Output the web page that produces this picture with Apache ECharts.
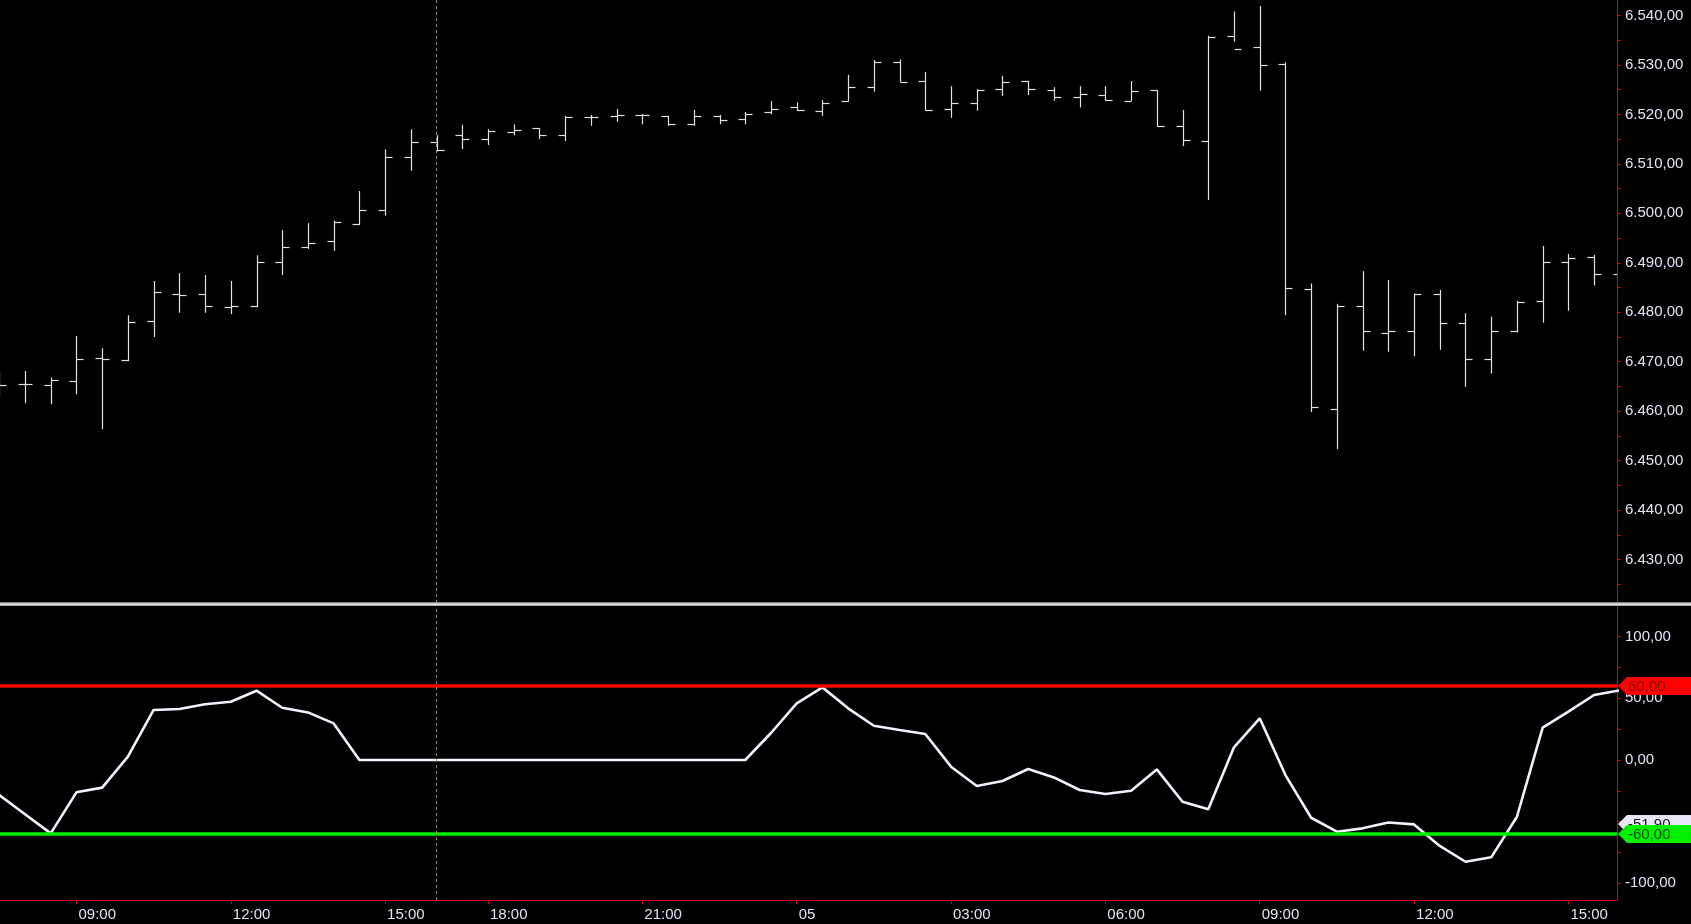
<!DOCTYPE html>
<html>
<head>
<meta charset="utf-8">
<script src="https://cdn.jsdelivr.net/npm/echarts@6/dist/echarts.min.js"></script>
<style>
html,body{margin:0;padding:0;background:#000;}
#chart{width:1691px;height:924px;}
</style>
</head>
<body>
<div id="chart"></div>
<script>
// ---- data (30-minute bars) ----
const times = [
  '07:30','08:00','08:30','09:00','09:30','10:00','10:30','11:00','11:30','12:00',
  '12:30','13:00','13:30','14:00','14:30','15:00','15:30','16:00','16:30',
  '18:00','18:30','19:00','19:30','20:00','20:30','21:00','21:30','22:00','22:30','23:00','23:30',
  '00:00','00:30','01:00','01:30','02:00','02:30','03:00','03:30','04:00','04:30','05:00','05:30',
  '06:00','06:30','07:00','07:30','08:00','08:30','09:00','09:30','10:00','10:30','11:00','11:30',
  '12:00','12:30','13:00','13:30','14:00','14:30','15:00','15:30','16:00'
];
const dayLabel = '05';
const opens = [
  6466.0,6465.5,6465.3,6466.1,6470.7,6470.3,6478.2,6483.7,6483.6,6481.0,
  6481.3,6490.2,6493.2,6494.3,6497.8,6500.7,6511.4,6514.5,6515.8,
  6515.0,6516.5,6517.2,6515.8,6519.5,6519.7,6519.9,6519.7,6518.0,6519.7,6519.1,6520.5,
  6521.5,6520.7,6522.7,6525.6,6530.5,6526.7,6521.1,6522.4,6525.1,6526.75,6524.9,6523.5,
  6523.9,6522.7,6524.9,6517.65,6514.6,6535.9,6533.7,6530.1,6484.6,6460.5,6481.3,6475.7,
  6476.2,6483.7,6477.8,6470.5,6476.1,6482.3,6490.2,6491.2,6487.7
];
const highs = [
  6468.0,6468.1,6466.8,6475.2,6472.7,6479.4,6486.3,6487.9,6487.5,6486.3,
  6491.5,6496.6,6498.0,6498.5,6504.5,6512.9,6517.0,6515.8,6517.9,
  6517.0,6518.0,6517.2,6519.7,6519.9,6521.1,6520.1,6519.7,6520.9,6519.9,6520.5,6522.7,
  6522.4,6522.9,6528.0,6531.0,6531.1,6528.6,6525.7,6525.1,6527.8,6526.8,6525.5,6525.7,
  6525.7,6526.75,6524.9,6520.9,6535.9,6540.8,6541.9,6530.5,6485.8,6481.7,6488.3,6486.5,
  6483.8,6484.5,6479.8,6479.1,6482.3,6493.4,6491.8,6491.6,6489.0
];
const lows = [
  6463.0,6461.6,6461.4,6463.4,6456.3,6470.1,6475.0,6479.9,6479.9,6479.6,
  6481.0,6487.5,6492.8,6492.4,6497.6,6499.5,6508.6,6512.5,6513.0,
  6513.8,6515.8,6515.0,6514.6,6517.7,6518.5,6518.0,6517.7,6517.7,6518.0,6518.0,6520.0,
  6520.7,6519.7,6522.6,6524.6,6526.5,6520.75,6519.3,6520.75,6523.7,6523.9,6522.8,6521.4,
  6522.8,6522.7,6517.5,6513.6,6502.7,6534.7,6524.8,6479.4,6459.8,6452.3,6472.2,6472.0,
  6471.1,6472.4,6464.9,6467.6,6475.9,6477.9,6480.3,6485.4,6486.0
];
const closes = [
  6465.3,6465.5,6466.3,6470.5,6470.5,6478.1,6484.1,6483.5,6481.3,6481.3,
  6490.2,6493.2,6493.9,6498.3,6500.7,6511.4,6514.5,6512.7,6515.0,
  6516.7,6516.8,6515.8,6519.5,6519.5,6519.9,6519.9,6518.0,6519.7,6518.8,6520.1,6521.1,
  6520.9,6522.4,6525.5,6530.5,6526.6,6520.9,6522.4,6524.9,6526.5,6525.1,6523.5,6524.1,
  6522.9,6524.7,6517.65,6514.8,6535.7,6533.2,6530.0,6484.8,6460.8,6481.3,6476.1,6476.3,
  6483.6,6477.8,6470.5,6476.1,6482.1,6490.2,6490.9,6487.7,6487.5
];
const oscillator = [
  -28.4,-44.0,-59.5,-26.2,-22.4,2.7,40.6,41.4,45.2,47.3,
  56.2,42.4,38.6,29.7,0,0,0,0,0,
  0,0,0,0,0,0,0,0,0,0,0,21.9,
  46.0,58.9,41.9,27.8,24.3,21.1,-5.4,-21.1,-17.0,-7.3,-14.1,-24.3,
  -27.6,-24.9,-7.6,-33.8,-40.0,10.3,33.8,-12.2,-46.8,-58.1,-55.4,-50.6,
  -52.2,-69.7,-82.5,-78.9,-46.0,26.2,39.2,52.7,56.5
];
const priceTicks = [6425,6430,6435,6440,6445,6450,6455,6460,6465,6470,6475,6480,6485,6490,6495,6500,6505,6510,6515,6520,6525,6530,6535,6540];
const priceLabels = [6430,6440,6450,6460,6470,6480,6490,6500,6510,6520,6530,6540];
const oscTicks = [-100,-75,-50,-25,0,25,50,75,100];
const oscLabels = [-100,-50,0,50,100];
const upperLevel = 60;
const lowerLevel = -60;
const markerValue = -51.9;
const sessionIndex = 17;

// ---- layout / style ----
const W = 1691;
const AXIS_X = 1617;
const RED = '#d80000';
const TXT = '#e4e4f4';
const FONT = "'Liberation Sans', Arial, sans-serif";

function fmt(v) {
  const neg = v < 0;
  const parts = Math.abs(v).toFixed(2).split('.');
  const ip = parts[0].replace(/\B(?=(\d{3})+(?!\d))/g, '.');
  return (neg ? '-' : '') + ip + ',' + parts[1];
}

const timeTickIdx = [];
times.forEach((t, i) => {
  const h = parseInt(t.slice(0, 2), 10);
  if (t.slice(3) === '00' && h % 3 === 0) timeTickIdx.push(i);
});

const ohlcData = times.map((t, i) => [i, opens[i], highs[i], lows[i], closes[i]]);
const oscData = oscillator.map((v, i) => [i, v]);

const chart = echarts.init(document.getElementById('chart'), null, {renderer: 'canvas'});

function renderBar(params, api) {
  const x = api.value(0);
  const o = api.coord([x, api.value(1)]);
  const h = api.coord([x, api.value(2)]);
  const l = api.coord([x, api.value(3)]);
  const c = api.coord([x, api.value(4)]);
  const px = Math.round(o[0]) + 0.5;
  const oy = Math.round(o[1]) + 0.5;
  const cy = Math.round(c[1]) + 0.5;
  const st = {stroke: '#e2e2e2', lineWidth: 1.2};
  return {
    type: 'group',
    children: [
      {type: 'line', shape: {x1: px, y1: h[1], x2: px, y2: l[1]}, style: st},
      {type: 'line', shape: {x1: px - 7, y1: oy, x2: px, y2: oy}, style: st},
      {type: 'line', shape: {x1: px, y1: cy, x2: px + 7, y2: cy}, style: st}
    ]
  };
}

const xMin = 0.028, xMax = 62.89;

const option = {
  backgroundColor: '#000000',
  animation: false,
  grid: [
    {left: 0, right: W - AXIS_X, top: 0, height: 603},
    {left: 0, right: W - AXIS_X, top: 604, bottom: 24}
  ],
  xAxis: [
    {type: 'value', gridIndex: 0, min: xMin, max: xMax, show: false},
    {
      type: 'value', gridIndex: 1, min: xMin, max: xMax,
      axisLine: {show: true, onZero: false, lineStyle: {color: RED, width: 1}},
      axisTick: {show: true, customValues: timeTickIdx, length: 4, lineStyle: {color: RED}},
      axisLabel: {
        customValues: timeTickIdx, color: TXT, fontSize: 15, fontFamily: FONT,
        align: 'left', margin: 7, padding: [0, 0, 0, 2],
        formatter: v => { const t = times[Math.round(v)]; return t === '00:00' ? dayLabel : t; }
      },
      splitLine: {show: false}
    }
  ],
  yAxis: [
    {
      type: 'value', gridIndex: 0, position: 'right', min: 6421.2, max: 6543.13,
      axisLine: {show: true, onZero: false, lineStyle: {color: RED, width: 1}},
      axisTick: {show: true, customValues: priceTicks, length: 4, lineStyle: {color: RED}},
      axisLabel: {customValues: priceLabels, formatter: fmt, color: TXT, fontSize: 15, fontFamily: FONT, margin: 8},
      splitLine: {show: false}
    },
    {
      type: 'value', gridIndex: 1, position: 'right', min: -113.5, max: 126.5,
      axisLine: {show: true, onZero: false, lineStyle: {color: RED, width: 1}},
      axisTick: {show: true, customValues: oscTicks, length: 4, lineStyle: {color: RED}},
      axisLabel: {customValues: oscLabels, formatter: fmt, color: TXT, fontSize: 15, fontFamily: FONT, margin: 8, padding: [4, 0, 0, 0]},
      splitLine: {show: false}
    }
  ],
  series: [
    {
      type: 'custom', xAxisIndex: 0, yAxisIndex: 0, clip: true,
      renderItem: renderBar, data: ohlcData,
      markLine: {
        silent: true, symbol: 'none', label: {show: false},
        lineStyle: {color: '#8a8a8a', type: [3, 3], width: 1},
        data: [{xAxis: sessionIndex}]
      }
    },
    {
      type: 'line', xAxisIndex: 1, yAxisIndex: 1, data: [], z: 1,
      markLine: {
        silent: true, symbol: 'none', label: {show: false},
        data: [
          {yAxis: upperLevel, lineStyle: {color: '#ff0000', width: 3.5, type: 'solid'}},
          {yAxis: lowerLevel, lineStyle: {color: '#00f000', width: 3.5, type: 'solid'}},
          {xAxis: sessionIndex, lineStyle: {color: '#8a8a8a', width: 1, type: [3, 3]}}
        ]
      }
    },
    {
      type: 'line', xAxisIndex: 1, yAxisIndex: 1, data: oscData, z: 3,
      symbol: 'none', clip: true,
      lineStyle: {color: '#f2f2ff', width: 2.6}
    }
  ]
};

chart.setOption(option);

// right-side value tags and pane separator
const tags = [
  {value: markerValue, fill: '#e6e6f6', color: '#202020'},
  {value: lowerLevel, fill: '#00f000', color: '#004a00'},
  {value: upperLevel, fill: '#ff0000', color: '#8a0000'}
];
const graphics = [
  {type: 'rect', z: 100, shape: {x: 0, y: 602.3, width: W, height: 3.6}, style: {fill: '#a8a8a8'}},
  {type: 'rect', z: 101, shape: {x: 0, y: 603.5, width: W, height: 1.3}, style: {fill: '#f4f4f4'}}
];
tags.forEach((t, i) => {
  const y = chart.convertToPixel({yAxisIndex: 1}, t.value);
  const ax = AXIS_X + 1;
  graphics.push({
    type: 'polygon', z: 110 + i,
    shape: {points: [[ax, y], [ax + 9, y - 9], [W, y - 9], [W, y + 9], [ax + 9, y + 9]]},
    style: {fill: t.fill}
  });
  graphics.push({
    type: 'text', z: 110 + i, x: ax + 10, y: y + 1,
    style: {text: fmt(t.value), fill: t.color, font: '15px ' + FONT, textVerticalAlign: 'middle', verticalAlign: 'middle'}
  });
});
chart.setOption({graphic: graphics});
</script>
</body>
</html>
